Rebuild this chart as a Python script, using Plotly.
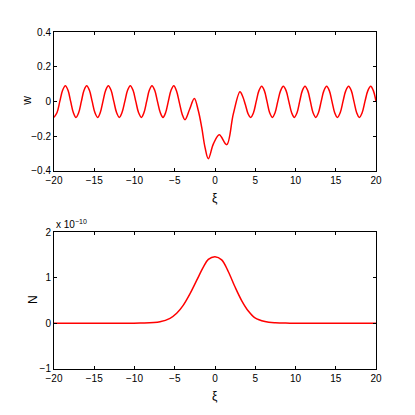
import plotly.graph_objects as go
from plotly.subplots import make_subplots

# top panel: w(xi)
xi_w = [-20.0, -19.62, -19.28, -18.93, -18.59, -18.26, -17.93, -17.6, -17.27, -16.93,
        -16.6, -16.27, -15.94, -15.6, -15.26, -14.92, -14.58, -14.25, -13.92, -13.58,
        -13.25, -12.91, -12.57, -12.23, -11.89, -11.55, -11.2, -10.86, -10.52, -10.18,
        -9.84, -9.5, -9.15, -8.82, -8.49, -8.16, -7.83, -7.49, -7.15, -6.8,
        -6.46, -6.13, -5.8, -5.46, -5.12, -4.77, -4.42, -4.07, -3.73, -3.15,
        -2.57, -2.07, -1.65, -1.24, -0.83, -0.2, 0.53, 1.45, 2.27, 3.1,
        3.43, 3.77, 4.1, 4.43, 4.78, 5.12, 5.46, 5.8, 6.13, 6.46,
        6.79, 7.12, 7.46, 7.8, 8.15, 8.49, 8.83, 9.17, 9.52, 9.86,
        10.19, 10.52, 10.85, 11.18, 11.52, 11.85, 12.18, 12.51, 12.85, 13.19,
        13.53, 13.87, 14.2, 14.53, 14.87, 15.2, 15.55, 15.9, 16.25, 16.6,
        16.93, 17.26, 17.6, 17.93, 18.28, 18.63, 18.99, 19.34, 19.67, 20.0]
w_vals = [-0.092, -0.064, 0.0, 0.064, 0.09, 0.064, 0.0, -0.064, -0.092, -0.064,
          0.0, 0.064, 0.09, 0.064, 0.0, -0.064, -0.092, -0.064, 0.0, 0.064,
          0.09, 0.064, 0.0, -0.064, -0.092, -0.064, 0.0, 0.064, 0.09, 0.064,
          0.0, -0.064, -0.092, -0.064, 0.0, 0.064, 0.09, 0.064, 0.0, -0.064,
          -0.092, -0.064, 0.0, 0.064, 0.09, 0.058, -0.008, -0.075, -0.105, -0.045,
          0.017, -0.054, -0.15, -0.265, -0.33, -0.245, -0.192, -0.249, -0.073, 0.056,
          0.03, -0.018, -0.07, -0.092, -0.065, 0.0, 0.062, 0.087, 0.062, 0.0,
          -0.065, -0.092, -0.065, 0.0, 0.062, 0.087, 0.062, 0.0, -0.065, -0.092,
          -0.065, 0.0, 0.062, 0.087, 0.062, 0.0, -0.065, -0.092, -0.065, 0.0,
          0.062, 0.087, 0.062, 0.0, -0.065, -0.092, -0.065, 0.0, 0.062, 0.087,
          0.062, 0.0, -0.065, -0.092, -0.065, 0.0, 0.062, 0.087, 0.062, 0.0]

# bottom panel: N(xi), in units of 1e-10
xi_n = [-20, -12, -9.3, -6.83, -5.59, -4.76, -3.93, -3.1, -2.28, -1.45, -0.83, 0,
        0.83, 1.66, 2.48, 3.31, 4.14, 4.97, 6.2, 7.5, 9.3, 12, 20]
n_vals = [0, 0, 0.005, 0.035, 0.11, 0.22, 0.40, 0.65, 0.94, 1.23, 1.40, 1.46,
          1.39, 1.13, 0.80, 0.50, 0.27, 0.12, 0.04, 0.012, 0.004, 0, 0]

x_ticks = [-20, -15, -10, -5, 0, 5, 10, 15, 20]
w_ticks = [-0.4, -0.2, 0, 0.2, 0.4]
w_ticktext = ["−0.4", "−0.2", "0", "0.2", "0.4"]
n_ticks = [-1, 0, 1, 2]

font = dict(family="Liberation Sans", size=10, color="black")
title_font = dict(family="Liberation Sans", size=12, color="black")

fig = make_subplots(rows=2, cols=1)
fig.add_trace(go.Scatter(x=xi_w, y=w_vals, mode="lines", line_shape="spline",
                         line=dict(color="red", width=1.5)), row=1, col=1)
fig.add_trace(go.Scatter(x=xi_n, y=n_vals, mode="lines", line_shape="spline",
                         line=dict(color="red", width=1.5)), row=2, col=1)

ax = dict(showline=True, linecolor="black", linewidth=1, mirror="allticks",
          ticks="inside", ticklen=3, tickcolor="black", showgrid=False,
          zeroline=False, tickfont=font)

fig.update_xaxes(range=[-20, 20], tickvals=x_ticks, **ax)
fig.update_yaxes(range=[-0.4, 0.4], tickvals=w_ticks, ticktext=w_ticktext,
                 row=1, col=1, **ax)
fig.update_yaxes(range=[-1, 2], tickvals=n_ticks, row=2, col=1, **ax)
fig.update_layout(yaxis=dict(domain=[0.588, 1.0]), yaxis2=dict(domain=[0, 0.4065]))

# axis labels, MATLAB style
lab = dict(xref="paper", yref="paper", showarrow=False, font=title_font,
           xanchor="center", yanchor="middle")
fig.add_annotation(text="w", x=-0.084, y=0.796, textangle=-90, **lab)
fig.add_annotation(text="N", x=-0.065, y=0.205, textangle=-90, **lab)
fig.add_annotation(text="ξ", x=0.5, y=0.507, **lab)
fig.add_annotation(text="ξ", x=0.5, y=-0.080, **lab)
fig.add_annotation(text="x 10<sup>−10</sup>", xref="paper", yref="paper", x=0, y=0.4065,
                   xanchor="left", yanchor="bottom", showarrow=False,
                   font=dict(family="Liberation Sans", size=10, color="black"))

# page body has an 8px margin, so the figure is drawn at 407x407
fig.update_layout(width=407, height=407, showlegend=False,
                  paper_bgcolor="white", plot_bgcolor="white",
                  margin=dict(l=46, r=39, t=24, b=46))

fig.write_html("out.html")
